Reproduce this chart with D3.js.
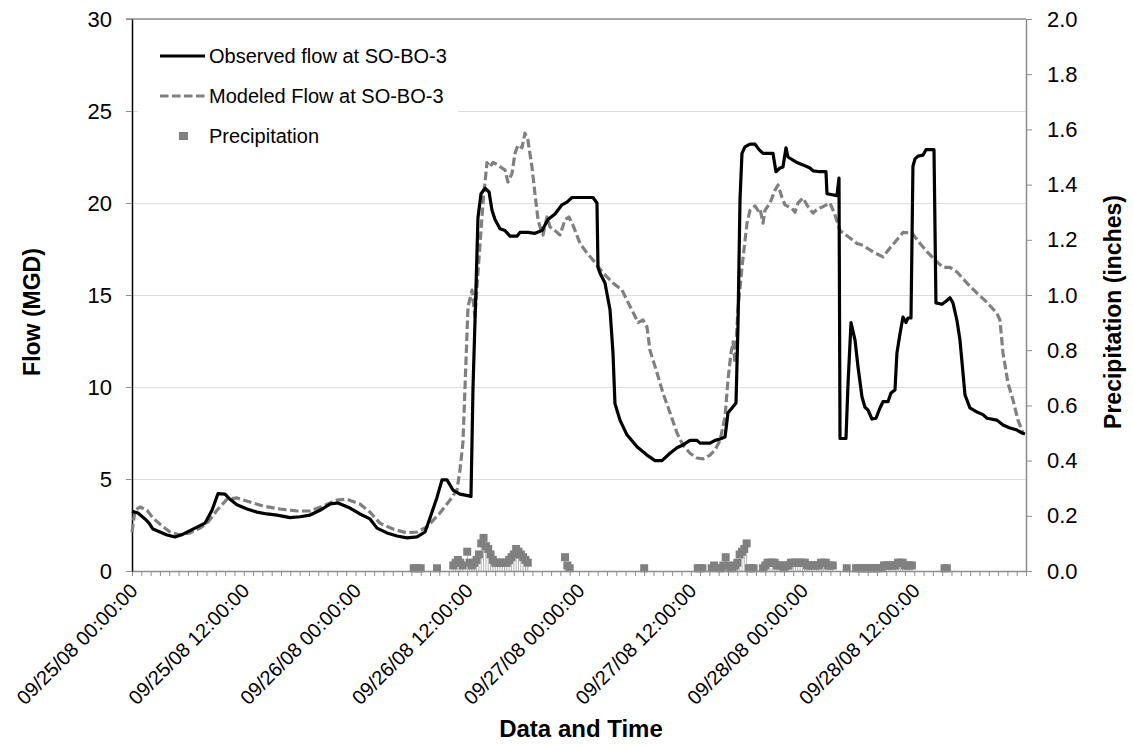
<!DOCTYPE html>
<html><head><meta charset="utf-8">
<script src="https://cdn.jsdelivr.net/npm/d3@7"></script>
<style>body{margin:0;background:#fff} svg{display:block} text{font-family:Arial,"Liberation Sans",sans-serif}</style>
</head><body><svg id="c" width="1133" height="747"></svg>
<script>
// ---- data ----
const labelHours = [0, 12, 24, 36, 48, 60, 72, 84];
const xTickLabels = ["09/25/08 00:00:00","09/25/08 12:00:00","09/26/08 00:00:00","09/26/08 12:00:00",
  "09/27/08 00:00:00","09/27/08 12:00:00","09/28/08 00:00:00","09/28/08 12:00:00"];
const flowTicks = [0, 5, 10, 15, 20, 25, 30];
const precipTicks = [0, 0.2, 0.4, 0.6, 0.8, 1.0, 1.2, 1.4, 1.6, 1.8, 2.0];
const legendLabels = ["Observed flow at SO-BO-3", "Modeled Flow at SO-BO-3", "Precipitation"];

// [hours since 09/25/08 00:00, flow MGD]
const observedFlow = [[0,3.25],[0.64,3.15],[1.40,2.83],[1.83,2.6],[2.25,2.28],[3.01,2.12],[3.76,1.96],[4.62,1.85],[5.48,2.0],[6.55,2.28],[7.84,2.6],[8.59,3.3],[9.23,4.2],[9.99,4.18],[10.52,3.9],[11.27,3.6],[12.35,3.37],[13.42,3.2],[14.50,3.1],[15.57,3.04],[16.97,2.9],[18.04,2.95],[19.12,3.04],[20.19,3.3],[21.26,3.64],[22.12,3.7],[23.41,3.42],[24.48,3.1],[25.56,2.83],[26.31,2.33],[27.38,2.07],[28.46,1.9],[29.53,1.8],[30.61,1.85],[31.46,2.12],[32.00,2.88],[32.75,4.0],[33.29,4.95],[33.82,4.95],[34.47,4.4],[35.22,4.18],[36.19,4.08],[36.40,4.05],[36.62,10.0],[36.94,15.4],[37.15,19.2],[37.48,20.5],[37.91,20.8],[38.34,20.6],[38.66,19.6],[38.98,19.1],[39.52,18.6],[40.05,18.5],[40.59,18.2],[41.34,18.2],[41.66,18.4],[42.52,18.4],[43.27,18.35],[44.03,18.5],[44.67,19.1],[45.42,19.4],[46.17,19.9],[46.71,20.05],[47.25,20.3],[49.50,20.3],[49.93,20.0],[50.04,16.5],[50.25,16.2],[50.79,15.65],[51.33,14.2],[51.65,11.85],[51.86,9.1],[52.40,8.2],[53.15,7.4],[54.23,6.75],[55.30,6.3],[56.16,6.0],[56.91,6.0],[57.77,6.4],[58.52,6.7],[59.16,6.85],[59.92,7.1],[60.67,7.1],[60.99,6.95],[62.07,6.95],[62.61,7.1],[63.14,7.17],[63.68,7.28],[64.00,8.6],[64.43,8.86],[64.86,9.13],[65.07,13.3],[65.29,20.2],[65.50,22.7],[65.82,23.05],[66.36,23.2],[66.90,23.2],[67.33,22.9],[67.76,22.7],[68.83,22.7],[69.15,21.7],[69.58,21.9],[69.90,21.96],[70.23,23.0],[70.44,22.5],[71.41,22.2],[72.05,22.07],[72.80,21.9],[73.13,21.75],[73.88,21.7],[74.52,21.7],[74.63,20.5],[75.70,20.4],[75.92,21.35],[76.03,7.2],[76.67,7.2],[76.89,10.2],[77.21,13.5],[77.64,12.55],[77.96,11.1],[78.39,9.46],[78.71,8.9],[79.03,8.75],[79.46,8.26],[79.89,8.3],[80.32,8.86],[80.64,9.2],[81.18,9.2],[81.50,9.67],[81.93,9.84],[82.14,11.85],[82.47,12.9],[82.79,13.8],[83.11,13.5],[83.33,13.75],[83.65,13.75],[83.86,22.0],[84.08,22.4],[84.40,22.55],[84.94,22.6],[85.26,22.9],[86.12,22.9],[86.33,14.57],[86.98,14.5],[87.51,14.7],[87.84,14.85],[88.16,14.57],[88.59,13.6],[88.91,12.55],[89.45,9.57],[89.98,8.86],[90.74,8.64],[91.38,8.5],[91.81,8.3],[92.88,8.2],[93.53,7.93],[94.28,7.77],[95.03,7.66],[95.57,7.5],[95.89,7.45]];

const modeledFlow = [[0,2.1],[0.32,3.3],[0.86,3.48],[1.61,3.3],[2.25,2.88],[3.22,2.45],[4.08,2.12],[5.15,1.96],[6.23,2.07],[7.30,2.33],[8.16,2.66],[9.13,3.3],[10.20,3.9],[11.27,3.97],[12.67,3.75],[14.07,3.53],[15.89,3.37],[17.72,3.26],[19.11,3.26],[20.51,3.53],[22.01,3.86],[23.09,3.9],[24.48,3.64],[25.56,3.2],[26.63,2.6],[28.03,2.28],[29.53,2.07],[30.61,2.12],[31.68,2.4],[33.07,3.15],[34.15,3.86],[34.90,4.4],[35.22,5.5],[35.54,7.0],[35.76,10.0],[36.08,14.35],[36.51,15.27],[36.83,13.8],[37.15,16.2],[37.69,20.0],[38.12,22.2],[38.44,21.96],[38.76,22.2],[39.30,22.07],[39.73,21.9],[40.05,21.8],[40.37,21.14],[40.80,21.6],[41.13,22.7],[41.45,23.15],[41.88,23.0],[42.20,23.8],[42.52,23.4],[42.95,21.96],[43.27,20.5],[43.60,19.1],[43.81,18.7],[44.14,18.26],[44.56,19.24],[44.89,18.7],[45.42,18.5],[45.96,18.26],[46.50,19.1],[46.92,19.24],[47.35,18.8],[48.11,17.8],[48.86,17.28],[49.50,16.9],[50.58,16.2],[51.65,15.65],[52.62,15.27],[53.26,14.6],[53.80,14.07],[54.33,13.5],[54.87,13.64],[55.30,13.26],[55.62,12.0],[56.38,10.76],[57.02,9.67],[57.77,8.6],[58.52,7.5],[59.16,6.85],[59.92,6.4],[60.67,6.14],[61.31,6.09],[62.07,6.3],[62.61,6.58],[63.14,7.1],[63.68,8.37],[64.00,10.4],[64.32,11.85],[64.54,12.45],[64.75,11.3],[65.07,14.2],[65.50,16.5],[66.04,18.9],[66.36,19.6],[66.90,19.84],[67.22,19.6],[67.44,19.7],[67.76,18.9],[67.97,19.6],[68.51,20.0],[69.05,20.7],[69.37,20.98],[69.80,20.3],[70.12,19.9],[70.87,19.7],[71.20,19.5],[71.52,20.0],[72.05,20.27],[72.59,19.8],[73.13,19.45],[73.66,19.7],[74.20,19.8],[74.95,20.0],[75.49,19.35],[76.03,18.5],[77.10,18.1],[77.85,17.8],[78.50,17.7],[79.57,17.34],[80.64,17.07],[81.39,17.55],[82.14,18.0],[82.79,18.4],[83.76,18.37],[84.62,17.8],[85.47,17.3],[86.44,16.8],[87.09,16.5],[87.84,16.5],[88.59,16.25],[89.66,15.65],[90.74,15.1],[91.81,14.6],[92.88,14.0],[93.20,13.64],[93.53,11.85],[94.07,10.2],[94.60,9.3],[95.14,8.2],[95.68,7.5]];

// [hours, precipitation inches] (zero values omitted)
const precipitation = [[30.25,0.01],[30.5,0.01],[30.75,0.01],[31.0,0.01],[32.75,0.01],
 [34.5,0.02],[34.75,0.03],[35.0,0.04],[35.25,0.03],[35.5,0.02],[36.0,0.07],[36.25,0.03],[36.5,0.02],[36.75,0.03],[37.0,0.04],
 [37.25,0.06],[37.5,0.10],[37.75,0.12],[38.0,0.09],[38.25,0.08],[38.5,0.06],[38.75,0.04],[39.0,0.03],[39.25,0.03],[39.5,0.03],
 [39.75,0.03],[40.0,0.03],[40.25,0.03],[40.5,0.04],[40.75,0.05],[41.0,0.06],[41.25,0.08],[41.5,0.07],[41.75,0.06],[42.0,0.05],
 [42.25,0.04],[42.5,0.03],[46.5,0.05],[46.75,0.02],[47.0,0.01],
 [55.0,0.01],[60.75,0.01],[61.0,0.01],[61.25,0.01],[62.25,0.01],[62.5,0.02],[63.0,0.01],[63.25,0.01],[63.5,0.02],[63.75,0.05],
 [64.0,0.02],[64.25,0.01],[64.5,0.01],[64.75,0.02],[65.0,0.03],[65.25,0.06],[65.5,0.07],[65.75,0.08],[66.0,0.10],[66.25,0.01],
 [66.5,0.01],[66.75,0.01],[67.75,0.01],[68.0,0.02],[68.25,0.03],[68.5,0.03],[68.75,0.03],[69.0,0.03],[69.25,0.02],[69.5,0.02],
 [69.75,0.02],[70.0,0.01],[70.25,0.02],[70.5,0.02],[70.75,0.03],[71.0,0.03],[71.25,0.03],[71.5,0.03],[71.75,0.03],[72.0,0.03],
 [72.25,0.03],[72.5,0.02],[72.75,0.02],[73.0,0.02],[73.25,0.02],[73.5,0.02],[73.75,0.02],[74.0,0.03],[74.25,0.03],[74.5,0.03],
 [74.75,0.02],[75.0,0.02],[75.25,0.02],[76.75,0.01],[77.75,0.01],[78.0,0.01],[78.25,0.01],[78.5,0.01],[78.75,0.01],[79.0,0.01],
 [79.25,0.01],[79.5,0.01],[79.75,0.01],[80.0,0.01],[80.25,0.01],[80.5,0.01],[80.75,0.02],[81.0,0.02],[81.25,0.02],[81.5,0.02],
 [81.75,0.02],[82.0,0.02],[82.25,0.03],[82.5,0.03],[82.75,0.03],[83.0,0.02],[83.25,0.02],[83.5,0.02],[83.75,0.02],
 [87.25,0.01],[87.5,0.01]];

// ---- layout ----
const svg = d3.select("#c");
const L = 132, R = 1026, T = 19, B = 571;
const x = d3.scaleLinear().domain([0, 96]).range([L, R]);
const yL = d3.scaleLinear().domain([0, 30]).range([B, T]);
const yR = d3.scaleLinear().domain([0, 2]).range([B, T]);

// gridlines
svg.append("g").selectAll("line").data(flowTicks.filter(d => d > 0 && d < 30)).join("line")
  .attr("x1", L - 6).attr("x2", R).attr("y1", d => yL(d)).attr("y2", d => yL(d))
  .attr("stroke", "#dcdcdc").attr("stroke-width", 1).attr("shape-rendering", "crispEdges");
svg.append("line").attr("x1", L - 6).attr("x2", R).attr("y1", yL(30)).attr("y2", yL(30))
  .attr("stroke", "#8c8c8c").attr("stroke-width", 1.5);

// precipitation drop lines + markers
const pg = svg.append("g");
pg.selectAll("line").data(precipitation).join("line")
  .attr("x1", d => x(d[0])).attr("x2", d => x(d[0]))
  .attr("y1", d => yR(d[1])).attr("y2", B)
  .attr("stroke", "#b4b4b4").attr("stroke-width", 1);
pg.selectAll("rect").data(precipitation).join("rect")
  .attr("x", d => x(d[0]) - 4).attr("y", d => yR(d[1]) - 4)
  .attr("width", 8).attr("height", 8).attr("fill", "#808080");

// x axis
const xAxis = svg.append("g").attr("transform", `translate(0,${B})`)
  .call(d3.axisBottom(x).tickValues(d3.range(0, 97, 1)).tickSize(5).tickSizeOuter(0).tickFormat(""));
xAxis.select(".domain").attr("stroke", "#8c8c8c").attr("stroke-width", 1.5);
xAxis.selectAll(".tick line").attr("stroke", "#8c8c8c");
svg.append("g").selectAll("text").data(labelHours).join("text")
  .attr("transform", d => `translate(${x(d) + 2},${B + 16}) rotate(-45)`)
  .attr("text-anchor", "end").attr("dy", "0.35em").attr("font-size", 20).attr("fill", "#000")
  .text((d, i) => xTickLabels[i]);

// left axis
const la = svg.append("g").attr("transform", `translate(${L},0)`)
  .call(d3.axisLeft(yL).tickValues(flowTicks).tickSize(6).tickSizeOuter(0).tickPadding(14).tickFormat(d3.format("d")));
la.select(".domain").attr("stroke", "#000").attr("stroke-width", 1.5);
la.selectAll(".tick line").attr("stroke", "#8c8c8c");
la.selectAll(".tick text").attr("font-size", 22).attr("fill", "#000").attr("font-family", "Arial, 'Liberation Sans', sans-serif");

// right axis
const ra = svg.append("g").attr("transform", `translate(${R},0)`)
  .call(d3.axisRight(yR).tickValues(precipTicks).tickSize(6).tickSizeOuter(0).tickPadding(15).tickFormat(d3.format(".1f")));
ra.select(".domain").attr("stroke", "#8c8c8c").attr("stroke-width", 1.5);
ra.selectAll(".tick line").attr("stroke", "#8c8c8c");
ra.selectAll(".tick text").attr("font-size", 22).attr("fill", "#000").attr("font-family", "Arial, 'Liberation Sans', sans-serif");

// lines
const line = d3.line().x(d => x(d[0])).y(d => yL(d[1]));
svg.append("path").datum(modeledFlow).attr("d", line).attr("fill", "none")
  .attr("stroke", "#808080").attr("stroke-width", 3.2).attr("stroke-dasharray", "8.5,3.5").attr("stroke-linejoin", "round");
svg.append("path").datum(observedFlow).attr("d", line).attr("fill", "none")
  .attr("stroke", "#000").attr("stroke-width", 3.2).attr("stroke-linejoin", "round");

// legend
const lg = svg.append("g");
lg.append("rect").attr("x", 138).attr("y", 26).attr("width", 320).attr("height", 128).attr("fill", "#fff");
const ly = [56, 96, 136];
lg.append("line").attr("x1", 160).attr("x2", 205).attr("y1", ly[0]).attr("y2", ly[0]).attr("stroke", "#000").attr("stroke-width", 3.2);
lg.append("line").attr("x1", 160).attr("x2", 205).attr("y1", ly[1]).attr("y2", ly[1]).attr("stroke", "#808080").attr("stroke-width", 3.2).attr("stroke-dasharray", "8.5,3.5");
lg.append("rect").attr("x", 179).attr("y", ly[2] - 4).attr("width", 9).attr("height", 8).attr("fill", "#808080");
lg.selectAll("text").data(legendLabels).join("text")
  .attr("x", 209).attr("y", (d, i) => ly[i]).attr("dy", "0.35em").attr("font-size", 20).attr("fill", "#000").text(d => d);

// axis titles
svg.append("text").attr("transform", "translate(40,312) rotate(-90)").attr("text-anchor", "middle")
  .attr("font-size", 23).attr("font-weight", "bold").text("Flow (MGD)");
svg.append("text").attr("transform", "translate(1121,312) rotate(-90)").attr("text-anchor", "middle")
  .attr("font-size", 23).attr("font-weight", "bold").text("Precipitation (inches)");
svg.append("text").attr("x", 581).attr("y", 737).attr("text-anchor", "middle")
  .attr("font-size", 24).attr("font-weight", "bold").text("Data and Time");
</script></body></html>
